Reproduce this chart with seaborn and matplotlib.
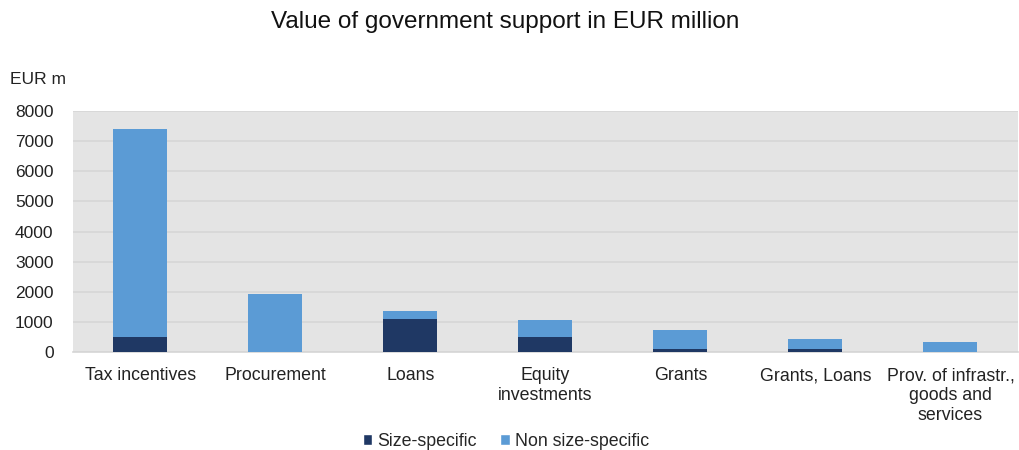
import matplotlib
matplotlib.use("Agg")
import matplotlib.pyplot as plt
from matplotlib.patches import Patch
import seaborn as sns
import pandas as pd

categories = ["Tax incentives", "Procurement", "Loans", "Equity\ninvestments",
              "Grants", "Grants, Loans", "Prov. of infrastr.,\ngoods and\nservices"]
size_specific = [500, 0, 1090, 500, 100, 100, 0]
non_size_specific = [6900, 1940, 280, 560, 640, 330, 320]
y_ticks = [0, 1000, 2000, 3000, 4000, 5000, 6000, 7000, 8000]

sns.set_theme(style="white")
plt.rcParams["font.family"] = ["Liberation Sans", "DejaVu Sans"]

dark = "#1F3864"
light = "#5B9BD5"

df = pd.DataFrame({
    "category": categories,
    "size": size_specific,
    "non": non_size_specific,
})
df["total"] = df["size"] + df["non"]

fig = plt.figure(figsize=(10.2, 4.5), dpi=100)
ax = fig.add_axes([73 / 1020, 1 - 352 / 450, 945 / 1020, 241 / 450])
ax.set_facecolor("#E4E4E4")

# stacked look: full total in light blue, size-specific part over it in navy
sns.barplot(data=df, x="category", y="total", color=light, width=0.4,
            saturation=1, linewidth=0, ax=ax, zorder=3)
sns.barplot(data=df, x="category", y="size", color=dark, width=0.4,
            saturation=1, linewidth=0, ax=ax, zorder=4)

ax.set_ylim(0, 8000)
ax.set_yticks(y_ticks)
ax.set_yticklabels([str(v) for v in y_ticks], fontsize=12.5, color="#222222")
ax.tick_params(axis="x", labelsize=12.8, colors="#222222", length=0, pad=11)
for lbl in ax.get_xticklabels():
    lbl.set_linespacing(1.22)
ax.tick_params(axis="y", length=0, pad=14)
ax.set_xlabel("")
ax.set_ylabel("")
ax.yaxis.grid(True, color="#D6D6D6", linewidth=1.2, zorder=0)
ax.set_axisbelow(True)
for s in ["top", "right", "left"]:
    ax.spines[s].set_visible(False)
ax.spines["bottom"].set_color("#D6D6D6")
ax.spines["bottom"].set_linewidth(1.2)

fig.text(505 / 1020, 1 - 22 / 450, "Value of government support in EUR million",
         ha="center", va="center", fontsize=17.5,
         color="#111111")
fig.text(10 / 1020, 1 - 79 / 450, "EUR m", ha="left", va="center",
         fontsize=12.5, color="#222222")

handles = [Patch(facecolor=dark, label="Size-specific"),
           Patch(facecolor=light, label="Non size-specific")]
fig.legend(handles=handles, loc="center", bbox_to_anchor=(506 / 1020, 1 - 441 / 450),
           ncol=2, frameon=False, fontsize=12.8, handlelength=0.55, handleheight=0.55,
           handletextpad=0.3, columnspacing=1.3)

fig.savefig("out.png", dpi=100)
